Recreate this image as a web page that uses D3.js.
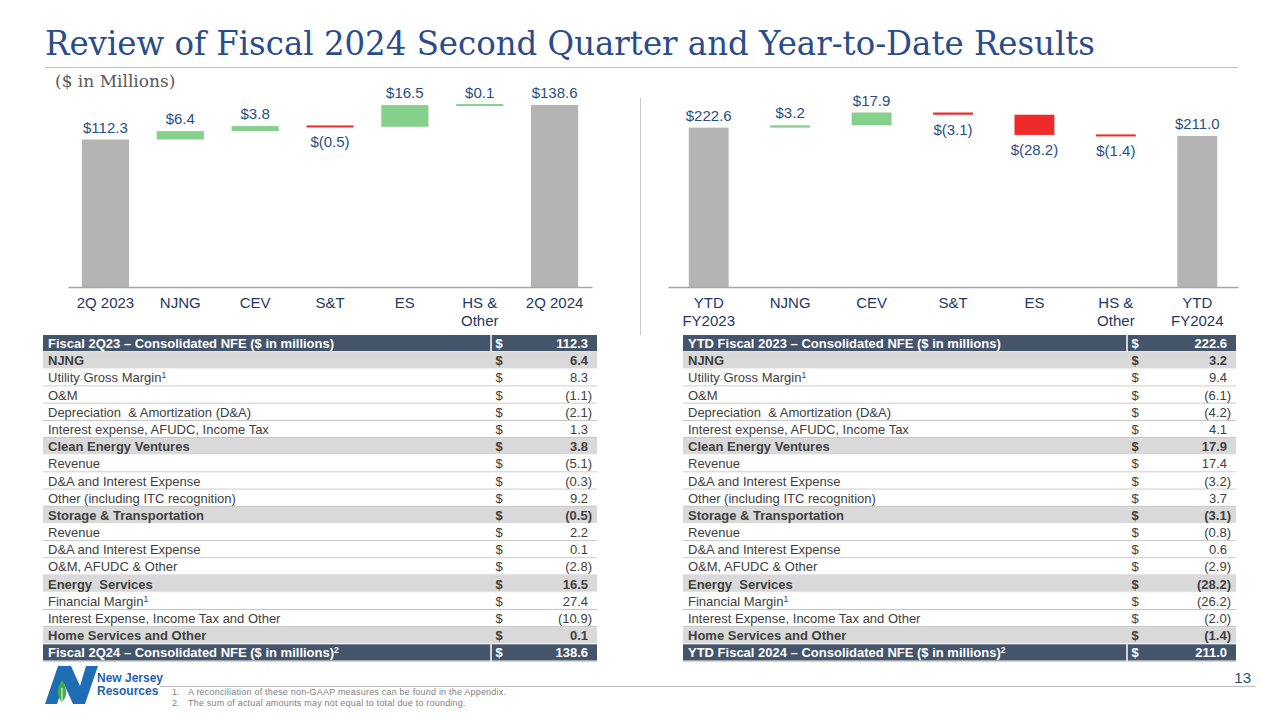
<!DOCTYPE html>
<html>
<head>
<meta charset="utf-8">
<script src="https://cdn.jsdelivr.net/npm/d3@7"></script>
<style>
  body { margin: 0; background: #fff; }
  svg { display: block; }
</style>
</head>
<body>
<div id="wrapper"></div>
<script>
// chart data
const qCategories = ["2Q 2023", "NJNG", "CEV", "S&T", "ES", "HS &\nOther", "2Q 2024"]
const qValues = [112.3, 6.4, 3.8, -0.5, 16.5, 0.1, 138.6]

const ytdCategories = ["YTD\nFY2023", "NJNG", "CEV", "S&T", "ES", "HS &\nOther", "YTD\nFY2024"]
const ytdValues = [222.6, 3.2, 17.9, -3.1, -28.2, -1.4, 211.0]

// table data
const qTableLabels = ["Fiscal 2Q23 – Consolidated NFE ($ in millions)", "NJNG", "Utility Gross Margin", "O&M",
  "Depreciation  & Amortization (D&A)", "Interest expense, AFUDC, Income Tax", "Clean Energy Ventures", "Revenue",
  "D&A and Interest Expense", "Other (including ITC recognition)", "Storage & Transportation", "Revenue",
  "D&A and Interest Expense", "O&M, AFUDC & Other", "Energy  Services", "Financial Margin",
  "Interest Expense, Income Tax and Other", "Home Services and Other", "Fiscal 2Q24 – Consolidated NFE ($ in millions)"]
const qTableValues = [112.3, 6.4, 8.3, -1.1, -2.1, 1.3, 3.8, -5.1, -0.3, 9.2, -0.5, 2.2, 0.1, -2.8, 16.5, 27.4, -10.9, 0.1, 138.6]

const ytdTableLabels = ["YTD Fiscal 2023 – Consolidated NFE ($ in millions)", "NJNG", "Utility Gross Margin", "O&M",
  "Depreciation  & Amortization (D&A)", "Interest expense, AFUDC, Income Tax", "Clean Energy Ventures", "Revenue",
  "D&A and Interest Expense", "Other (including ITC recognition)", "Storage & Transportation", "Revenue",
  "D&A and Interest Expense", "O&M, AFUDC & Other", "Energy  Services", "Financial Margin",
  "Interest Expense, Income Tax and Other", "Home Services and Other", "YTD Fiscal 2024 – Consolidated NFE ($ in millions)"]
const ytdTableValues = [222.6, 3.2, 9.4, -6.1, -4.2, 4.1, 17.9, 17.4, -3.2, 3.7, -3.1, -0.8, 0.6, -2.9, -28.2, -26.2, -2.0, -1.4, 211.0]

const rowKinds = ["head", "sub", "item", "item", "item", "item", "sub", "item", "item", "item",
  "sub", "item", "item", "item", "sub", "item", "item", "sub", "head"]
const rowSup = ["", "", "1", "", "", "", "", "", "", "", "", "", "", "", "", "1", "", "", "2"]

const footnotes = ["A reconciliation of these non-GAAP measures can be found in the Appendix.",
  "The sum of actual amounts may not equal to total due to rounding."]

function drawSlide() {

  // 1. Canvas
  const width = 1280
  const height = 720
  const wrapper = d3.select("#wrapper")
    .append("svg")
    .attr("width", width)
    .attr("height", height)
    .style("font-family", "Arial, 'Liberation Sans', sans-serif")

  const blue = "#2B4C8C"
  const labelBlue = "#264F86"
  const axisBlue = "#1F3864"

  // 2. Title and rules
  wrapper.append("text")
    .attr("x", 45)
    .attr("y", 55)
    .attr("fill", blue)
    .style("font-family", "Georgia, 'DejaVu Serif', serif")
    .style("font-size", "33px")
    .attr("textLength", 1050)
    .attr("lengthAdjust", "spacingAndGlyphs")
    .text("Review of Fiscal 2024 Second Quarter and Year-to-Date Results")

  wrapper.append("line")
    .attr("x1", 45).attr("x2", 1238)
    .attr("y1", 67.5).attr("y2", 67.5)
    .attr("stroke", "#BFBFBF")

  wrapper.append("text")
    .attr("x", 55)
    .attr("y", 87)
    .attr("fill", "#595959")
    .style("font-family", "Georgia, 'DejaVu Serif', serif")
    .style("font-size", "17px")
    .text("($ in Millions)")

  wrapper.append("line")
    .attr("x1", 640.5).attr("x2", 640.5)
    .attr("y1", 98).attr("y2", 335)
    .attr("stroke", "#C8C8C8")

  // 3. Waterfalls
  function drawWaterfall(categories, values, xRange, yMax, yTop, padInner) {
    let running = 0
    const steps = values.map((v, i) => {
      const total = i === 0 || i === values.length - 1
      let start, end
      if (total) { start = 0; end = v; running = v }
      else { start = running; end = running + v; running = end }
      return { cat: categories[i], value: v, start, end, total }
    })

    const xScale = d3.scaleBand()
      .domain(categories)
      .range(xRange)
      .paddingInner(padInner)
      .paddingOuter(padInner / 2)

    const yScale = d3.scaleLinear()
      .domain([0, yMax])
      .range([287, yTop])

    const colorOf = d => d.total ? "#B4B4B4" : (d.value >= 0 ? "#85D08A" : "#EE2A2A")

    const bounds = wrapper.append("g")

    bounds.selectAll("rect")
      .data(steps)
      .join("rect")
      .attr("x", d => xScale(d.cat))
      .attr("width", xScale.bandwidth())
      .attr("y", d => {
        const top = yScale(Math.max(d.start, d.end))
        const h = yScale(Math.min(d.start, d.end)) - top
        return h < 2 ? top - (2 - h) / 2 : top
      })
      .attr("height", d => Math.max(2, Math.abs(yScale(d.start) - yScale(d.end))))
      .attr("fill", colorOf)

    const fmt = d3.format(".1f")
    bounds.selectAll("text.value")
      .data(steps)
      .join("text")
      .attr("class", "value")
      .attr("x", d => xScale(d.cat) + xScale.bandwidth() / 2)
      .attr("y", d => d.value >= 0
        ? yScale(Math.max(d.start, d.end)) - 7
        : yScale(Math.min(d.start, d.end)) + 20)
      .attr("text-anchor", "middle")
      .attr("fill", labelBlue)
      .style("font-size", "15px")
      .text(d => d.value >= 0 ? "$" + fmt(d.value) : "$(" + fmt(-d.value) + ")")

    const xAxis = bounds.append("g")
      .attr("transform", "translate(0,287)")
      .call(d3.axisBottom(xScale).tickSize(0).tickPadding(10))

    xAxis.select(".domain")
      .attr("stroke", "#A6A6A6")
      .attr("stroke-width", 1.5)

    xAxis.selectAll(".tick text")
      .attr("fill", axisBlue)
      .style("font-size", "15px")
      .style("font-family", "Arial, 'Liberation Sans', sans-serif")
      .each(function (d) {
        const t = d3.select(this)
        t.text(null)
        d.split("\n").forEach((line, i) => {
          t.append("tspan")
            .attr("x", 0)
            .attr("dy", i === 0 ? "0.71em" : "1.2em")
            .text(line)
        })
      })
  }

  drawWaterfall(qCategories, qValues, [68, 592], 150, 90, 0.37)
  drawWaterfall(ytdCategories, ytdValues, [668, 1238], 250, 108, 0.51)

  // 4. Tables
  function drawTable(labels, values, x0, x1, dollarX) {
    const rowScale = d3.scaleBand()
      .domain(d3.range(labels.length))
      .range([335, 661.5])

    const rows = wrapper.append("g")
      .selectAll("g")
      .data(labels.map((l, i) => ({ label: l, value: values[i], kind: rowKinds[i], sup: rowSup[i] })))
      .join("g")
      .attr("transform", (d, i) => `translate(0,${rowScale(i)})`)

    const h = rowScale.bandwidth()

    rows.append("rect")
      .attr("x", x0)
      .attr("width", x1 - x0)
      .attr("height", h)
      .attr("fill", d => d.kind === "head" ? "#44546A" : d.kind === "sub" ? "#D9D9D9" : "#FFFFFF")

    rows.filter(d => d.kind === "head")
      .append("line")
      .attr("x1", dollarX - 8).attr("x2", dollarX - 8)
      .attr("y1", 0).attr("y2", h)
      .attr("stroke", "#FFFFFF")
      .attr("stroke-width", 1.5)

    rows.append("line")
      .attr("x1", x0).attr("x2", x1)
      .attr("y1", h - 0.5).attr("y2", h - 0.5)
      .attr("stroke", d => d.kind === "item" ? "#BFBFBF" : "#FFFFFF")

    const textColor = d => d.kind === "head" ? "#FFFFFF" : "#404040"
    const weight = d => d.kind === "item" ? "normal" : "bold"

    const label = rows.append("text")
      .attr("x", x0 + 5)
      .attr("y", h / 2 + 4.5)
      .attr("fill", textColor)
      .style("font-weight", weight)
      .style("font-size", "13px")
      .style("white-space", "pre")
      .text(d => d.label)

    label.filter(d => d.sup !== "")
      .append("tspan")
      .attr("dy", -4)
      .style("font-size", "8.5px")
      .text(d => d.sup)

    rows.append("text")
      .attr("x", dollarX)
      .attr("y", h / 2 + 4.5)
      .attr("text-anchor", "middle")
      .attr("fill", textColor)
      .style("font-weight", weight)
      .style("font-size", "13px")
      .text("$")

    rows.append("text")
      .attr("x", d => d.value < 0 ? x1 - 5 : x1 - 9)
      .attr("y", h / 2 + 4.5)
      .attr("text-anchor", "end")
      .attr("fill", textColor)
      .style("font-weight", weight)
      .style("font-size", "13px")
      .text(d => d.value < 0 ? "(" + d3.format(".1f")(-d.value) + ")" : d3.format(".1f")(d.value))
  }

  drawTable(qTableLabels, qTableValues, 43, 597, 499)
  drawTable(ytdTableLabels, ytdTableValues, 683, 1236, 1135)

  // 5. Footer
  wrapper.append("line")
    .attr("x1", 160).attr("x2", 1255)
    .attr("y1", 686.5).attr("y2", 686.5)
    .attr("stroke", "#BFBFBF")

  wrapper.append("text")
    .attr("x", 1251)
    .attr("y", 683)
    .attr("text-anchor", "end")
    .attr("fill", "#1F4E79")
    .style("font-size", "15px")
    .text("13")

  const notes = wrapper.append("g")
    .selectAll("g")
    .data(footnotes)
    .join("g")
    .attr("transform", (d, i) => `translate(0,${695 + i * 10.5})`)
  notes.append("text")
    .attr("x", 172)
    .attr("fill", "#7F7F7F")
    .style("font-size", "9px")
    .text((d, i) => (i + 1) + ".")
  notes.append("text")
    .attr("x", 188)
    .attr("fill", "#7F7F7F")
    .style("font-size", "9px")
    .style("letter-spacing", "0.2px")
    .text(d => d)

  // logo
  const logo = wrapper.append("g")
  logo.append("path")
    .attr("d", "M45,704 L58,666 L71,666 L80,686 L86,666 L98,666 L85,704 L73,704 L64,684 L57,704 Z")
    .attr("fill", "#1F6DB5")
  logo.append("path")
    .attr("d", "M62,702 C56,696 57,688 62,680 C67,688 68,696 62,702 Z")
    .attr("fill", "#3FAE49")
  logo.append("path")
    .attr("d", "M62,701 L62,688")
    .attr("stroke", "#FFFFFF")
    .attr("stroke-width", 1)
  logo.selectAll("text")
    .data(["New Jersey", "Resources"])
    .join("text")
    .attr("x", 97)
    .attr("y", (d, i) => 682 + i * 13)
    .attr("fill", "#1F62B0")
    .style("font-size", "12px")
    .style("font-weight", "bold")
    .text(d => d)
}
drawSlide()
</script>
</body>
</html>
